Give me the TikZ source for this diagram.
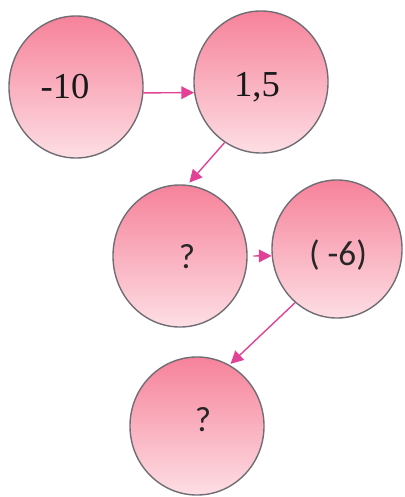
\documentclass[tikz,border=0pt]{standalone}
\usepackage{fontspec}
\setmainfont{Liberation Serif}
\newfontfamily\calfont{Carlito}
\usepackage{tikz}
\usetikzlibrary{arrows.meta}
\usetikzlibrary{shapes.geometric}

\definecolor{ballTop}{RGB}{246,130,154}
\definecolor{ballBottom}{RGB}{253,222,228}
\definecolor{ballEdge}{RGB}{112,110,116}
\definecolor{arrowPink}{RGB}{226,66,150}

\tikzset{
  ball/.style={ellipse, draw=ballEdge, line width=1pt, top color=ballTop,
    bottom color=ballBottom, minimum width=3.35cm, minimum height=3.55cm, inner sep=0pt},
  numtext/.style={font=\fontsize{26}{26}\selectfont, text=black!90},
  quest/.style={font=\calfont\fontsize{25}{25}\selectfont, text=black!85},
  link/.style={draw=arrowPink, line width=1pt, -{Triangle[length=9pt,width=9pt]}}
}

\begin{document}
\begin{tikzpicture}[x=0.025cm,y=-0.025cm]
\useasboundingbox (0,0) rectangle (405,497);
\node[ball, label={[numtext,shift={(-11,0)}]center:-10}] (start) at (76,87) {};
\node[ball, label={[numtext,shift={(-4,5)}]center:1,5}] (half) at (261,82) {};
\node[ball, label={[quest,shift={(7,1)}]center:?}] (askA) at (180,256) {};
\node[ball, minimum width=3.25cm, minimum height=3.45cm,
  label={[quest,shift={(1,6)}]center:( -6)}] (minus) at (337,249) {};
\node[ball, minimum height=3.45cm, label={[quest,shift={(6,-6)}]center:?}] (askB) at (197,426) {};

\draw[link] (start.-5) -- (half.189);
\draw[link, shorten >=2pt] (half.239) -- (askA.84);
\draw[link, shorten <=4pt] (askA.east) -- (minus.186);
\draw[link, shorten >=1pt] (minus.232) -- (askB.62);
\end{tikzpicture}
\end{document}
